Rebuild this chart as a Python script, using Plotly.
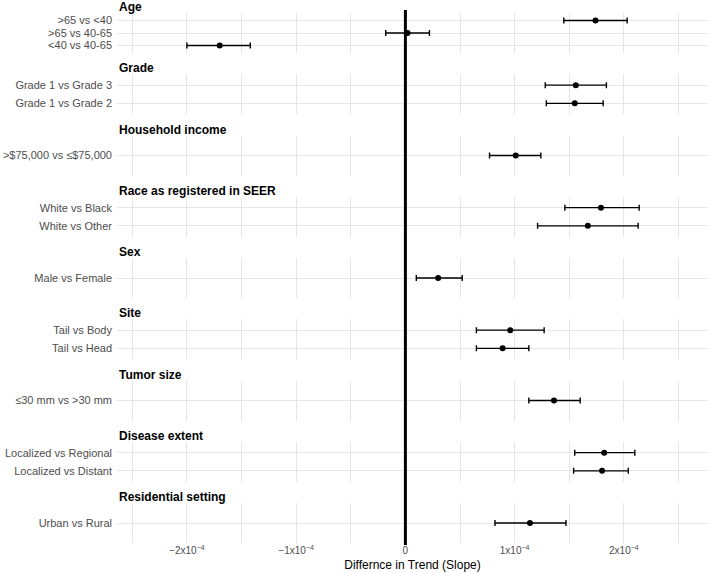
import plotly.graph_objects as go

# ---- data (slope differences, units of 1e-4) ----
groups = ["Age", "Grade", "Household income", "Race as registered in SEER", "Sex",
          "Site", "Tumor size", "Disease extent", "Residential setting"]
row_group = ["Age", "Age", "Age", "Grade", "Grade", "Household income",
             "Race as registered in SEER", "Race as registered in SEER", "Sex",
             "Site", "Site", "Tumor size", "Disease extent", "Disease extent",
             "Residential setting"]
row_label = [">65 vs <40", ">65 vs 40-65", "<40 vs 40-65",
             "Grade 1 vs Grade 3", "Grade 1 vs Grade 2",
             ">$75,000 vs ≤$75,000",
             "White vs Black", "White vs Other",
             "Male vs Female",
             "Tail vs Body", "Tail vs Head",
             "≤30 mm vs >30 mm",
             "Localized vs Regional", "Localized vs Distant",
             "Urban vs Rural"]
estimate = [1.74, 0.02, -1.70, 1.56, 1.55, 1.01, 1.79, 1.67, 0.30, 0.96, 0.89, 1.36, 1.82, 1.80, 1.14]
lower = [1.45, -0.18, -2.00, 1.28, 1.29, 0.77, 1.46, 1.21, 0.10, 0.65, 0.65, 1.13, 1.55, 1.54, 0.82]
upper = [2.03, 0.22, -1.42, 1.84, 1.81, 1.24, 2.14, 2.13, 0.52, 1.27, 1.13, 1.60, 2.10, 2.04, 1.47]
scale = 1e-4
tick_vals = [-2, -1, 0, 1, 2]
tick_text = ["−2x10<sup>−4</sup>", "−1x10<sup>−4</sup>", "0", "1x10<sup>−4</sup>", "2x10<sup>−4</sup>"]
x_title = "Differnce in Trend (Slope)"

# ---- layout geometry ----
W, Hfig = 709, 573
mt, mb, ml, mr = 13, 30, 117, 1
plot_h = Hfig - mt - mb
n = len(groups)
panel_h = 40
gap = (plot_h - n * panel_h) / (n - 1)

fig = go.Figure()
grid_col = "#e6e6e6"
layout = dict(
    width=W, height=Hfig,
    margin=dict(l=ml, r=mr, t=mt, b=mb),
    paper_bgcolor="white", plot_bgcolor="white",
    showlegend=False,
    font=dict(family="Liberation Sans, Arial, sans-serif", color="#4d4d4d"),
)
annotations = []
for i, g in enumerate(groups):
    idx = [k for k, rg in enumerate(row_group) if rg == g]
    labs = [row_label[k] for k in idx]
    est = [estimate[k] * scale for k in idx]
    lo = [lower[k] * scale for k in idx]
    hi = [upper[k] * scale for k in idx]
    sfx = "" if i == 0 else str(i + 1)
    top_px = i * (panel_h + gap)
    d1 = 1 - top_px / plot_h
    d0 = 1 - (top_px + panel_h) / plot_h
    fig.add_trace(go.Scatter(
        x=est, y=labs, mode="markers",
        marker=dict(color="black", size=6),
        error_x=dict(type="data", symmetric=False,
                     array=[h - e for h, e in zip(hi, est)],
                     arrayminus=[e - l for e, l in zip(est, lo)],
                     color="black", thickness=1.4, width=3),
        xaxis="x" + sfx, yaxis="y" + sfx, hoverinfo="skip"))
    m = len(labs)
    layout["yaxis" + sfx] = dict(
        domain=[d0, d1], anchor="x" + sfx, type="category",
        categoryorder="array", categoryarray=labs,
        tickmode="array", tickvals=labs, ticktext=labs,
        range=[m - 1 + 0.6, -0.6],
        showgrid=True, gridcolor=grid_col, gridwidth=1,
        zeroline=False, showline=False, ticks="",
        ticklabelstandoff=4,
        tickfont=dict(size=11, color="#4d4d4d"))
    xa = dict(
        anchor="y" + sfx, domain=[0, 1],
        range=[-2.64e-4, 2.77e-4],
        tickmode="array", tickvals=[v * scale for v in tick_vals],
        ticktext=tick_text,
        showgrid=True, gridcolor=grid_col, gridwidth=1,
        minor=dict(tick0=0, dtick=0.5e-4, showgrid=True, gridcolor=grid_col, gridwidth=1),
        zeroline=False, showline=False, ticks="",
        showticklabels=(i == n - 1),
        tickfont=dict(size=10, color="#4d4d4d"))
    if i != 0:
        xa["matches"] = "x"
    if i == n - 1:
        xa["title"] = dict(text=x_title, font=dict(size=12, color="black"), standoff=5)
    layout["xaxis" + sfx] = xa
    center_px = top_px - 6
    annotations.append(dict(
        text="<b>" + g + "</b>", xref="paper", yref="paper",
        x=0, xanchor="left", y=1 - center_px / plot_h, yanchor="middle",
        showarrow=False, font=dict(size=12, color="black")))

layout["annotations"] = annotations
layout["shapes"] = [dict(type="line", xref="x" + str(n), yref="paper",
                         x0=0, x1=0, y0=-0.004, y1=1 + 3 / plot_h,
                         line=dict(color="black", width=3))]
fig.update_layout(**layout)
fig.write_html("out.html")
